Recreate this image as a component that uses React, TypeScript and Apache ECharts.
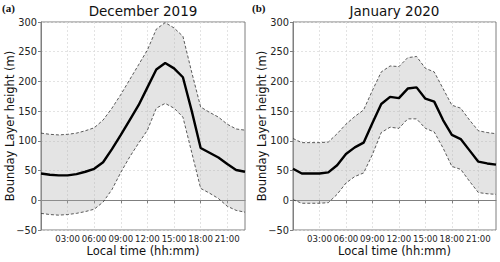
import React, { useEffect, useRef } from "react";
import * as echarts from "echarts";

const hours = ["00:00", "01:00", "02:00", "03:00", "04:00", "05:00", "06:00", "07:00", "08:00", "09:00", "10:00", "11:00", "12:00", "13:00", "14:00", "15:00", "16:00", "17:00", "18:00", "19:00", "20:00", "21:00", "22:00", "23:00"];

const decMean = [45, 43, 42, 42, 44, 48, 53, 64, 86, 110, 135, 160, 190, 220, 231, 222, 207, 150, 88, 80, 72, 61, 51, 48];
const decUpper = [113, 111, 110, 111, 113, 117, 122, 135, 155, 178, 203, 228, 253, 288, 299, 290, 276, 215, 157, 148, 140, 128, 120, 118];
const decLower = [-22, -24, -25, -24, -22, -19, -15, -3, 18, 47, 73, 96, 118, 155, 163, 155, 140, 80, 20, 12, 3, -10, -17, -20];

const janMean = [53, 45, 45, 45, 47, 59, 78, 89, 97, 130, 162, 174, 172, 188, 190, 171, 166, 135, 110, 103, 84, 65, 62, 60];
const janUpper = [104, 97, 97, 97, 98, 112, 128, 141, 152, 185, 216, 226, 225, 240, 242, 222, 216, 188, 160, 155, 135, 117, 114, 112];
const janLower = [1, -5, -5, -5, -4, 10, 29, 40, 46, 77, 114, 123, 121, 137, 137, 121, 115, 88, 57, 52, 32, 13, 11, 10];

const panels = [
  { title: "December 2019", tag: "(a)", mean: decMean, upper: decUpper, lower: decLower },
  { title: "January 2020", tag: "(b)", mean: janMean, upper: janUpper, lower: janLower },
];

const grids = [
  { left: 41, top: 22, width: 204, height: 208 },
  { left: 293, top: 22, width: 203, height: 208 },
];

const FONT = "DejaVu Sans";
const AXIS_COLOR = "#7f7f7f";

export default function App() {
  const ref = useRef<HTMLDivElement>(null);
  useEffect(() => {
    if (!ref.current) return;
    const chart = echarts.init(ref.current, undefined, { renderer: "svg" });

    const xAxes: any[] = [];
    const yAxes: any[] = [];
    const series: any[] = [];
    const graphics: any[] = [];
    const every3 = (i: number) => i % 3 === 0;
    const every3no0 = (i: number) => i % 3 === 0 && i !== 0;

    panels.forEach((p, k) => {
      const g = grids[k];
      xAxes.push({
        type: "category",
        data: hours,
        boundaryGap: false,
        gridIndex: k,
        axisLine: { show: true, lineStyle: { color: AXIS_COLOR, width: 1 } },
        axisTick: { show: true, length: 3, interval: every3no0, lineStyle: { color: AXIS_COLOR } },
        axisLabel: {
          fontFamily: FONT,
          fontSize: 8.6,
          color: "#222",
          margin: 4,
          interval: every3no0,
        },
        splitLine: { show: true, interval: every3, lineStyle: { color: "#dcdcdc", type: [2, 2], width: 0.8 } },
      });
      yAxes.push({
        type: "value",
        gridIndex: k,
        min: -50,
        max: 300,
        interval: 50,
        axisLine: { show: true, lineStyle: { color: AXIS_COLOR, width: 1 } },
        axisTick: { show: true, length: 3, lineStyle: { color: AXIS_COLOR } },
        axisLabel: {
          fontFamily: FONT,
          fontSize: 9.8,
          color: "#222",
          margin: 4,
          formatter: (v: number) => (v < 0 ? "\u2212" + Math.abs(v) : "" + v),
        },
        splitLine: { show: true, lineStyle: { color: "#dcdcdc", type: [2, 2], width: 0.8 } },
      });
      const stackName = "band" + k;
      series.push({
        type: "line",
        xAxisIndex: k,
        yAxisIndex: k,
        data: p.lower,
        stack: stackName,
        stackStrategy: "all",
        symbol: "none",
        lineStyle: { opacity: 0 },
        silent: true,
        z: 1,
      });
      series.push({
        type: "line",
        xAxisIndex: k,
        yAxisIndex: k,
        data: p.upper.map((u, i) => u - p.lower[i]),
        stack: stackName,
        stackStrategy: "all",
        symbol: "none",
        lineStyle: { opacity: 0 },
        areaStyle: { color: "rgba(170,170,170,0.32)", opacity: 1 },
        silent: true,
        z: 1,
      });
      [p.upper, p.lower].forEach((arr) => {
        series.push({
          type: "line",
          xAxisIndex: k,
          yAxisIndex: k,
          data: arr,
          symbol: "none",
          lineStyle: { color: "#333", width: 0.8, type: [3, 2] },
          silent: true,
          z: 2,
        });
      });
      series.push({
        type: "line",
        xAxisIndex: k,
        yAxisIndex: k,
        data: p.mean,
        symbol: "none",
        lineStyle: { color: "#000", width: 2.4 },
        silent: true,
        z: 3,
      });

      const cx = g.left + g.width / 2;
      graphics.push({
        type: "text",
        x: cx,
        y: 11,
        style: { text: p.title, fontFamily: FONT, fontSize: 13.5, fill: "#111", textAlign: "center", textVerticalAlign: "middle" },
      });
      graphics.push({
        type: "text",
        x: k === 0 ? 2 : 252,
        y: 8,
        style: { text: p.tag, fontFamily: "Liberation Serif", fontWeight: "bold", fontSize: 11, fill: "#111", textAlign: "left", textVerticalAlign: "middle" },
      });
      graphics.push({
        type: "text",
        x: cx,
        y: 251,
        style: { text: "Local time (hh:mm)", fontFamily: FONT, fontSize: 11.5, fill: "#111", textAlign: "center", textVerticalAlign: "middle" },
      });
      graphics.push({
        type: "text",
        x: g.left - 31,
        y: g.top + g.height / 2,
        rotation: Math.PI / 2,
        style: { text: "Bounday Layer height (m)", fontFamily: FONT, fontSize: 11.5, fill: "#111", textAlign: "center", textVerticalAlign: "middle" },
      });
    });

    chart.setOption({
      animation: false,
      backgroundColor: "#fff",
      grid: grids.map((g) => ({ ...g, show: true, borderColor: AXIS_COLOR, borderWidth: 1, backgroundColor: "transparent" })),
      xAxis: xAxes,
      yAxis: yAxes,
      series,
      graphic: graphics,
    });
    return () => chart.dispose();
  }, []);

  return <div ref={ref} style={{ width: 500, height: 262, position: "absolute", left: 0, top: 0 }} />;
}
